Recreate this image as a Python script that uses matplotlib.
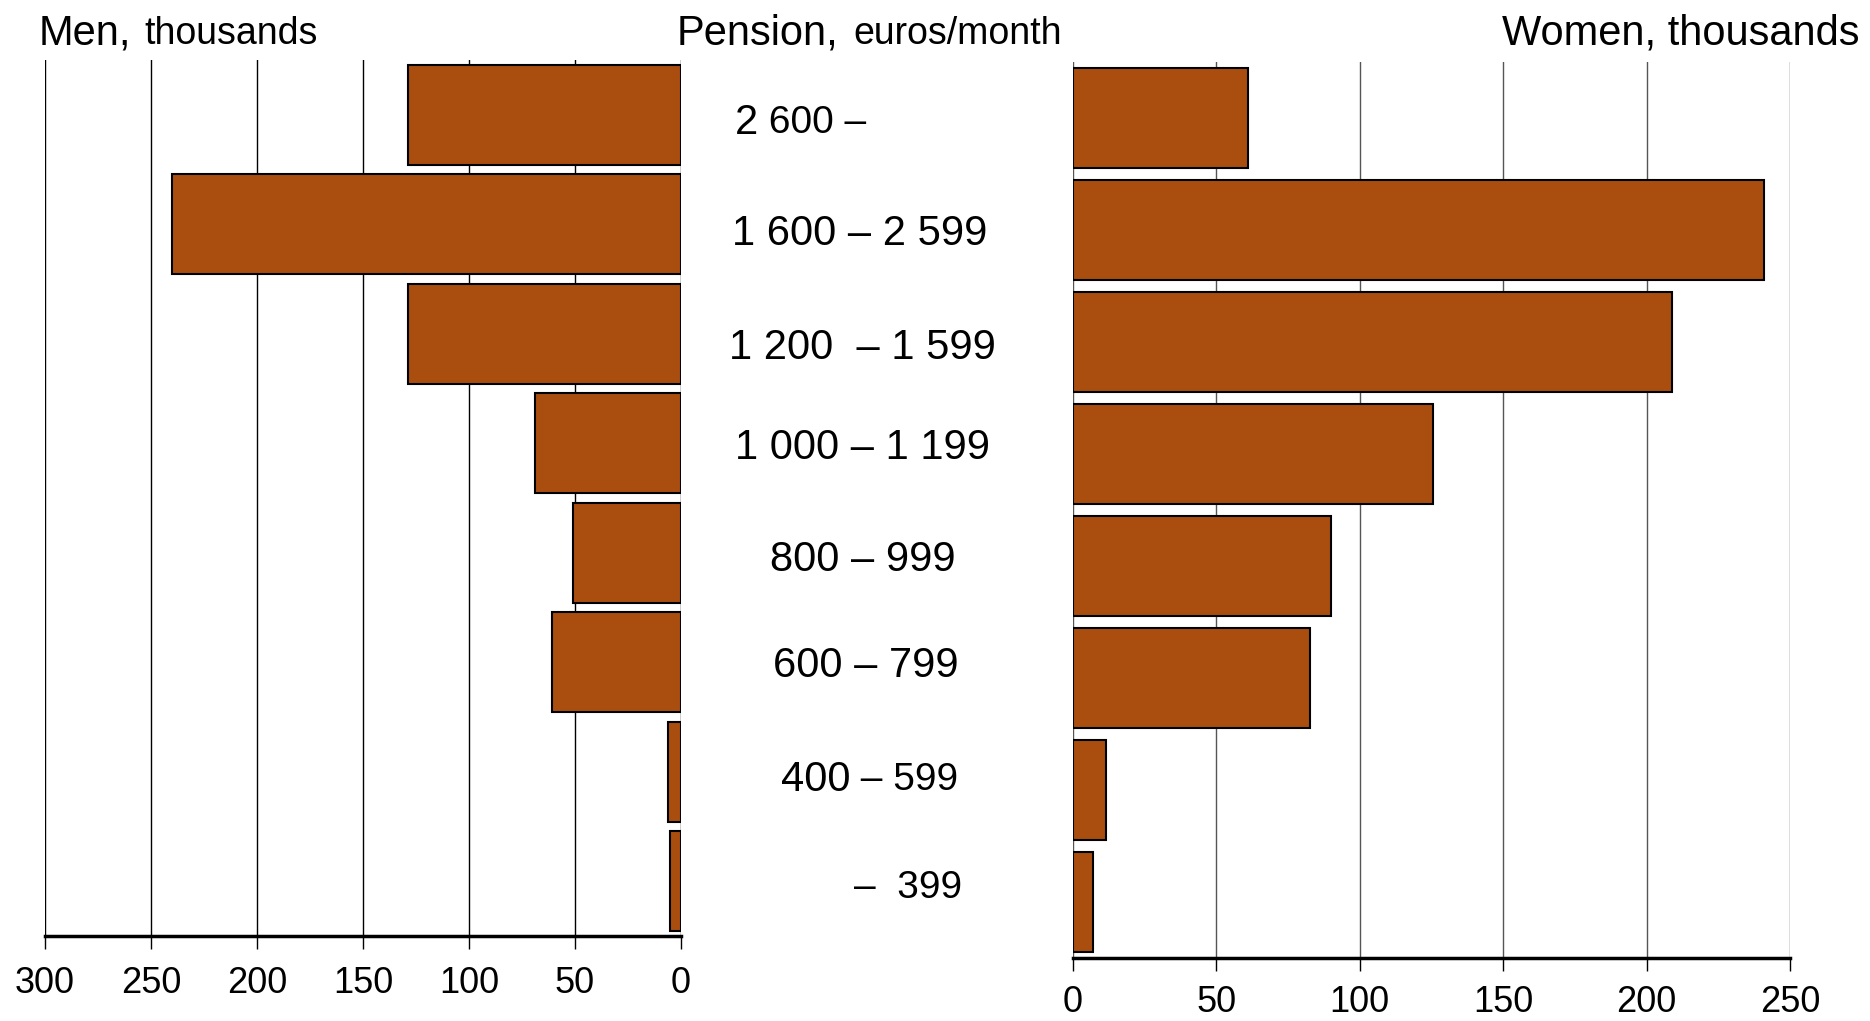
import matplotlib
matplotlib.use("Agg")
import matplotlib.pyplot as plt

plt.rcParams['font.family'] = ['Liberation Sans', 'DejaVu Sans']

# categories from top to bottom
categories = ["2 600 –", "1 600 – 2 599", "1 200  – 1 599", "1 000 – 1 199",
              "800 – 999", "600 – 799", "400 – 599", "–  399"]
men = [129, 240, 129, 69, 51, 61, 6, 5]
women = [61, 241, 209, 125.5, 90, 82.5, 11.5, 7]
men_ticks = [300, 250, 200, 150, 100, 50, 0]
women_ticks = [0, 50, 100, 150, 200, 250]

bar_color = "#AA4E10"
W, H = 1870, 1021
fig = plt.figure(figsize=(W / 100, H / 100), dpi=100)

axL = fig.add_axes([45 / W, 1 - 936 / H, (681 - 45) / W, (936 - 60) / H])
axR = fig.add_axes([1073 / W, 1 - 958 / H, (1790 - 1073) / W, (958 - 62) / H])

n = len(categories)
ypos = list(range(n))

axL.barh(ypos, men, height=0.91, color=bar_color, edgecolor="black", linewidth=1.5, zorder=3)
axL.set_xlim(300, 0)
axL.set_ylim(n - 0.5, -0.5)
axL.set_xticks(men_ticks)
axL.set_xticklabels([str(t) for t in men_ticks])
for t in men_ticks:
    axL.axvline(t, color="black", linewidth=1.0, zorder=1)

axR.barh(ypos, women, height=0.90, color=bar_color, edgecolor="black", linewidth=1.5, zorder=3)
axR.set_xlim(0, 250)
axR.set_ylim(n - 0.5, -0.5)
axR.set_xticks(women_ticks)
axR.set_xticklabels([str(t) for t in women_ticks])
for t in women_ticks:
    axR.axvline(t, color="#555555", linewidth=1.0, zorder=1)

for ax, pad in ((axL, 12.5), (axR, 10.5)):
    for s in ("top", "right", "left"):
        ax.spines[s].set_visible(False)
    ax.spines["bottom"].set_linewidth(2.5)
    ax.set_yticks([])
    ax.tick_params(axis="x", direction="out", length=9, width=1.0, labelsize=26, pad=pad)

# titles
fig.text(39 / W, 1 - 44 / H, "Men,", fontsize=30, ha="left", va="baseline")
fig.text(144 / W, 1 - 44 / H, "thousands", fontsize=27, ha="left", va="baseline")
fig.text(677 / W, 1 - 44 / H, "Pension,", fontsize=30, ha="left", va="baseline")
fig.text(853 / W, 1 - 44 / H, "euros/month", fontsize=27, ha="left", va="baseline")
fig.text(1860 / W, 1 - 44 / H, "Women, thousands", fontsize=30, ha="right", va="baseline")

# category labels in the middle (some with mixed sizes)
label_x = [735, 732, 729, 735, 770, 773, 781, 854]
label_dy = [4, 3, 5, -5, -5, -10, -8, -12]
big, small = 30, 28
for i, lab in enumerate(categories):
    yfig = axR.transData.transform((0, ypos[i]))[1]
    yfig = (yfig - label_dy[i] * 1.19) / H
    x = label_x[i] / W
    if i == 0:
        t = fig.text(x, yfig, "2", fontsize=big, ha="left", va="center")
        fig.canvas.draw()
        bb = t.get_window_extent()
        fig.text(bb.x1 / W, yfig, " 600 –", fontsize=small, ha="left", va="center")
    elif i == 6:
        t = fig.text(x, yfig, "400", fontsize=big, ha="left", va="center")
        fig.canvas.draw()
        bb = t.get_window_extent()
        fig.text(bb.x1 / W, yfig, " – 599", fontsize=small, ha="left", va="center")
    elif i == 7:
        fig.text(x, yfig, lab, fontsize=small, ha="left", va="center")
    else:
        fig.text(x, yfig, lab, fontsize=big, ha="left", va="center")

fig.savefig("out.png", dpi=100, facecolor="white")
